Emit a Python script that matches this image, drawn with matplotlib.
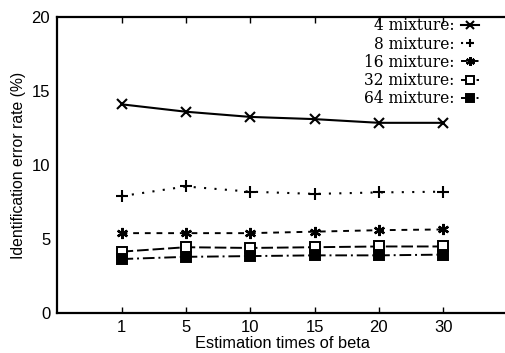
import matplotlib
matplotlib.use("Agg")
import matplotlib.pyplot as plt

categories = ["1", "5", "10", "15", "20", "30"]
mix4 = [14.1, 13.6, 13.25, 13.1, 12.85, 12.85]
mix8 = [7.9, 8.55, 8.2, 8.05, 8.15, 8.2]
mix16 = [5.4, 5.4, 5.4, 5.5, 5.6, 5.65]
mix32 = [4.15, 4.45, 4.4, 4.45, 4.5, 4.5]
mix64 = [3.65, 3.8, 3.85, 3.9, 3.9, 3.95]
labels = ["4 mixture:", "8 mixture:", "16 mixture:", "32 mixture:", "64 mixture:"]

fig = plt.figure(figsize=(5.06, 3.53), dpi=100)
ax = fig.add_axes([0.113, 0.113, 0.89, 0.839])
x = list(range(1, len(categories) + 1))

styles = [
    dict(marker="x", linestyle="-", markersize=7, mfc="black", mew=1.5, lw=1.5),
    dict(marker="+", linestyle=(0, (1, 4)), markersize=8, mfc="black", mew=1.5, lw=1.5),
    dict(marker=(6, 2, 0), linestyle=(0, (3, 3)), markersize=8, mfc="black", mew=1.7, lw=1.4),
    dict(marker="s", linestyle=(0, (6, 2)), markersize=6.5, mfc="white", mew=1.4, lw=1.4),
    dict(marker="s", linestyle=(0, (6, 2, 1, 2)), markersize=6.5, mfc="black", mew=1.4, lw=1.4),
]
series = [mix4, mix8, mix16, mix32, mix64]
for s, lab, st in zip(series, labels, styles):
    ax.plot(x, s, color="black", mec="black", label=lab, **st)

ax.set_xlim(0, 7)
ax.set_ylim(0, 20)
ax.set_xticks(x)
ax.set_xticklabels(categories, fontsize=12, family="Liberation Sans")
ax.set_yticks([0, 5, 10, 15, 20])
ax.set_yticklabels(["0", "5", "10", "15", "20"], fontsize=12, family="Liberation Sans")
ax.tick_params(axis="x", direction="in", top=True, length=4, width=1, pad=5)
ax.tick_params(axis="y", direction="in", length=0, pad=5)
ax.spines["right"].set_visible(False)
for sp in ["left", "bottom", "top"]:
    ax.spines[sp].set_linewidth(1.6)
ax.set_xlabel("Estimation times of beta", fontsize=11.8, family="Liberation Sans", labelpad=1)
ax.set_ylabel("Identification error rate (%)", fontsize=11.3, family="Liberation Sans", labelpad=4)

leg = ax.legend(loc="upper right", bbox_to_anchor=(0.955, 1.025), frameon=False, markerfirst=False,
                prop={"family": "DejaVu Serif", "size": 11.2},
                handlelength=1.2, handletextpad=0.4, labelspacing=0.08, borderaxespad=0.1,
                markerscale=0.8)
for t in leg.get_texts():
    t.set_ha("right")

fig.savefig("out.png", dpi=100)
